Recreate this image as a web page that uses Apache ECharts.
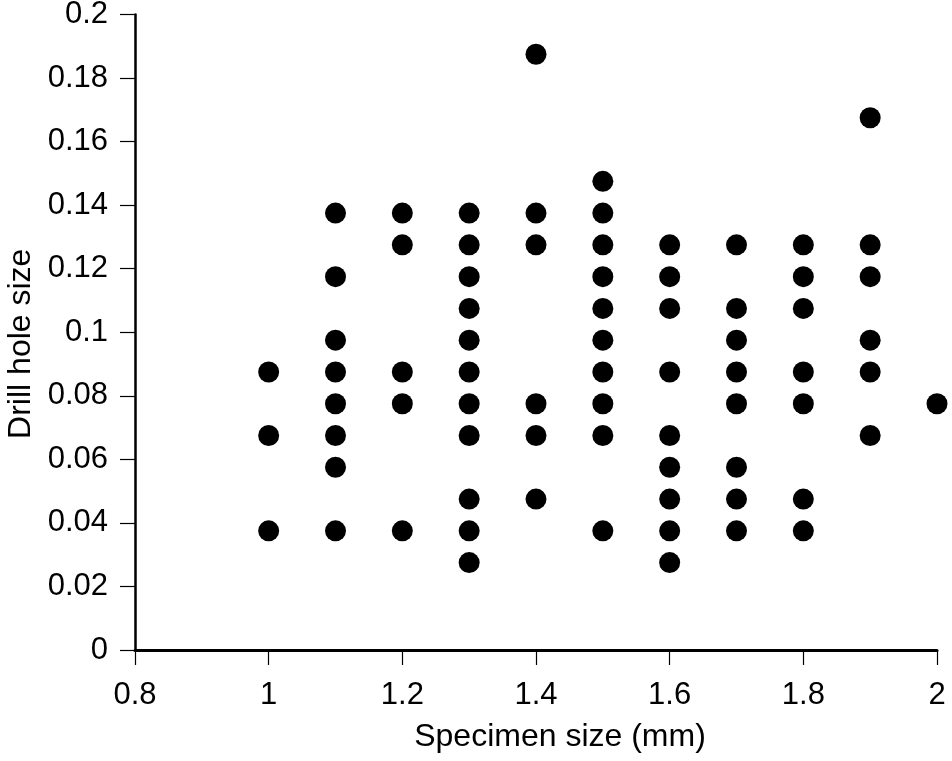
<!DOCTYPE html>
<html>
<head>
<meta charset="utf-8">
<script src="https://cdn.jsdelivr.net/npm/echarts@6/dist/echarts.min.js"></script>
<style>
html,body{margin:0;padding:0;background:#fff;}
#chart{width:952px;height:761px;}
</style>
</head>
<body>
<div id="chart"></div>
<script>
// Specimen size (mm) for each group of points
const specimenSizes = [1.0, 1.1, 1.2, 1.3, 1.4, 1.5, 1.6, 1.7, 1.8, 1.9, 2.0];
// Drill hole sizes observed per specimen size
const holes_1_0 = [0.0875, 0.0675, 0.0375];
const holes_1_1 = [0.1375, 0.1175, 0.0975, 0.0875, 0.0775, 0.0675, 0.0575, 0.0375];
const holes_1_2 = [0.1375, 0.1275, 0.0875, 0.0775, 0.0375];
const holes_1_3 = [0.1375, 0.1275, 0.1175, 0.1075, 0.0975, 0.0875, 0.0775, 0.0675, 0.0475, 0.0375, 0.0275];
const holes_1_4 = [0.1875, 0.1375, 0.1275, 0.0775, 0.0675, 0.0475];
const holes_1_5 = [0.1475, 0.1375, 0.1275, 0.1175, 0.1075, 0.0975, 0.0875, 0.0775, 0.0675, 0.0375];
const holes_1_6 = [0.1275, 0.1175, 0.1075, 0.0875, 0.0675, 0.0575, 0.0475, 0.0375, 0.0275];
const holes_1_7 = [0.1275, 0.1075, 0.0975, 0.0875, 0.0775, 0.0575, 0.0475, 0.0375];
const holes_1_8 = [0.1275, 0.1175, 0.1075, 0.0875, 0.0775, 0.0475, 0.0375];
const holes_1_9 = [0.1675, 0.1275, 0.1175, 0.0975, 0.0875, 0.0675];
const holes_2_0 = [0.0775];
const holeGroups = [holes_1_0, holes_1_1, holes_1_2, holes_1_3, holes_1_4, holes_1_5, holes_1_6, holes_1_7, holes_1_8, holes_1_9, holes_2_0];

const xTitle = 'Specimen size (mm)';
const yTitle = 'Drill hole size';

const points = [];
specimenSizes.forEach((s, i) => holeGroups[i].forEach(h => points.push([s, h])));

const font = 'Liberation Sans, Arial, sans-serif';
const chart = echarts.init(document.getElementById('chart'));
chart.setOption({
  animation: false,
  grid: {left: 135, right: 15, top: 14.5, bottom: 111, containLabel: false, outerBoundsMode: 'none'},
  xAxis: {
    type: 'value', min: 0.8, max: 2, interval: 0.2,
    name: xTitle, nameLocation: 'middle', nameGap: 71,
    nameTextStyle: {fontFamily: font, fontSize: 32, color: '#000', padding: [0, 0, 0, 48]},
    axisLine: {lineStyle: {color: '#000', width: 3}},
    axisTick: {show: true, length: 15, inside: false, lineStyle: {color: '#000', width: 1.2}},
    axisLabel: {fontFamily: font, fontSize: 31, color: '#000', margin: 30,
      formatter: v => String(parseFloat(v.toFixed(2)))},
    splitLine: {show: false}
  },
  yAxis: {
    type: 'value', min: 0, max: 0.2, interval: 0.02,
    name: yTitle, nameLocation: 'middle', nameGap: 92,
    nameTextStyle: {fontFamily: font, fontSize: 32, color: '#000', padding: [0, 23, 0, 0]},
    axisLine: {show: true, lineStyle: {color: '#000', width: 2.5}},
    axisTick: {show: true, length: 15, inside: false, lineStyle: {color: '#000', width: 1.2}},
    axisLabel: {fontFamily: font, fontSize: 31, color: '#000', margin: 27,
      formatter: v => String(parseFloat(v.toFixed(2)))},
    splitLine: {show: false}
  },
  series: [{
    type: 'scatter',
    data: points,
    symbol: 'circle',
    symbolSize: 21,
    itemStyle: {color: '#000', opacity: 1},
    silent: true
  }]
});
</script>
</body>
</html>
